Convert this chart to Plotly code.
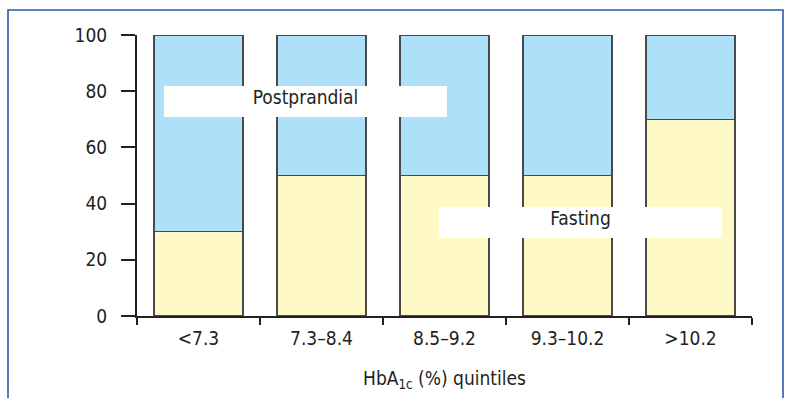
import plotly.graph_objects as go

categories = ["<7.3", "7.3–8.4", "8.5–9.2", "9.3–10.2", ">10.2"]
fasting = [30, 50, 50, 50, 70]
postprandial = [70, 50, 50, 50, 30]
y_ticks = [0, 20, 40, 60, 80, 100]

FONT = "DejaVu Sans Condensed, Roboto Condensed, Arial Narrow, sans-serif"
TXT = "#231f20"
FS = 19

fig = go.Figure()
fig.add_trace(go.Bar(x=categories, y=fasting, name="Fasting",
                     marker=dict(color="#fff9c5", line=dict(color="#4a4a4a", width=1.2))))
fig.add_trace(go.Bar(x=categories, y=postprandial, name="Postprandial",
                     marker=dict(color="#ade0f9", line=dict(color="#4a4a4a", width=1.2))))

L, R, T, B = 137, 34, 35, 82
W, H = 786, 398
pw, ph = W - L - R, H - T - B

fig.update_layout(
    barmode="stack", bargap=0.276,
    width=W, height=H,
    margin=dict(l=L, r=R, t=T, b=B, pad=0),
    paper_bgcolor="white", plot_bgcolor="white",
    showlegend=False,
    font=dict(family=FONT, color=TXT, size=FS),
)
fig.update_xaxes(
    type="category", showline=True, linecolor="#222", linewidth=2,
    ticks="outside", tickson="boundaries", ticklen=7, tickwidth=2, tickcolor="#222",
    showgrid=False, zeroline=False,
    tickfont=dict(size=FS, family=FONT, color=TXT),
    ticklabelstandoff=4,
    title=dict(text="HbA<sub>1c</sub> (%) quintiles", font=dict(size=FS, family=FONT, color=TXT), standoff=24),
    range=[-0.5, 4.5],
)
fig.update_yaxes(
    range=[0, 100], tickvals=y_ticks, showline=True, linecolor="#222", linewidth=2,
    ticks="outside", ticklen=14, tickwidth=2, tickcolor="#222",
    showgrid=False, zeroline=False,
    tickfont=dict(size=FS, family=FONT, color=TXT),
    ticklabelstandoff=10,
)

def to_paper_x(px):
    return (px - L) / pw

def to_paper_y(py):
    return (H - B - py) / ph

# outer frame
fig.add_shape(type="rect", xref="paper", yref="paper",
              x0=to_paper_x(8), x1=to_paper_x(783), y0=to_paper_y(410), y1=to_paper_y(10),
              line=dict(color="#2b5ba8", width=1.6), fillcolor="rgba(0,0,0,0)", layer="below")

fig.add_annotation(x=0.87, y=76.3, xref="x", yref="y", text="Postprandial", showarrow=False,
                   bgcolor="white", width=283, height=31, borderpad=0, borderwidth=0,
                   valign="top",
                   font=dict(size=FS, family=FONT, color=TXT))
fig.add_annotation(x=3.106, y=33.3, xref="x", yref="y", text="Fasting", showarrow=False,
                   bgcolor="white", width=283, height=31, borderpad=0, borderwidth=0,
                   valign="top",
                   font=dict(size=FS, family=FONT, color=TXT))

fig.write_html("out.html", config={"displayModeBar": False},
               post_script="document.body.style.margin='0';")
